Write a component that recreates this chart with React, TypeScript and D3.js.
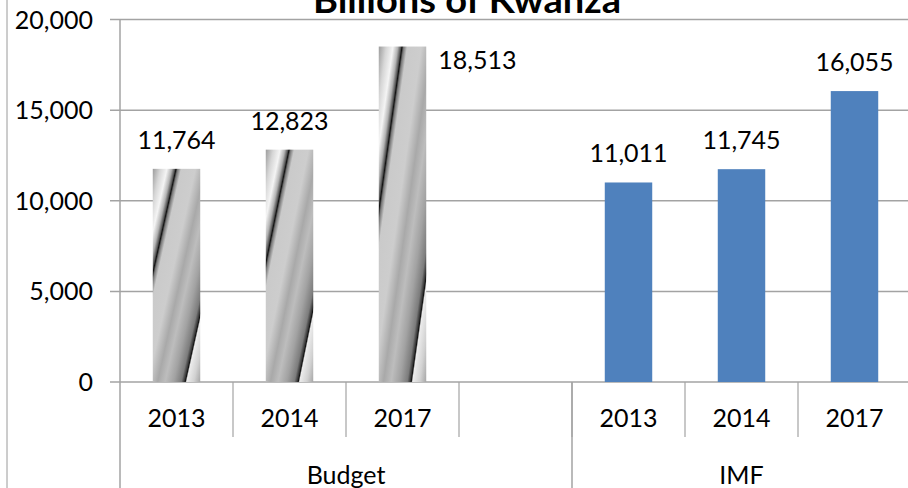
import * as d3 from 'd3';

// chart values
const groups = ['Budget', 'IMF'];
const budgetYears = ['2013', '2014', '2017', ''];
const budgetValues = [11764, 12823, 18513, null];
const imfYears = ['2013', '2014', '2017'];
const imfValues = [11011, 11745, 16055];
const yTicks = [0, 5000, 10000, 15000, 20000];
const title = 'Billions of Kwanza';

const width = 908;
const height = 488;
const margin = { top: 19.6, left: 120, right: -3, zero: 382 };

type Slot = { key: string; group: string; year: string; value: number | null };

const slots: Slot[] = [
  ...budgetYears.map((yr, i) => ({ key: 'b' + i, group: groups[0], year: yr, value: budgetValues[i] })),
  ...imfYears.map((yr, i) => ({ key: 'i' + i, group: groups[1], year: yr, value: imfValues[i] })),
];

const font = 'Lato, Carlito, Calibri, sans-serif';
const gridColor = '#a3a3a3';

const App = () => {
  const x = d3.scaleBand()
    .domain(slots.map(d => d.key))
    .range([margin.left, width - margin.right])
    .paddingInner(0.58)
    .paddingOuter(0.29);

  const y = d3.scaleLinear()
    .domain([0, 20000])
    .range([margin.zero, margin.top]);

  const step = x.step();
  const slotStart = (k: string) => (x(k) as number) - step * 0.29;
  const fmt = d3.format(',');

  // gradient stops for the grey "twisted" budget bars
  const greyStops: [number, string][] = [
    [0, '#9c9c9c'], [0.08, '#d6d6d6'], [0.15, '#f4f4f4'], [0.2, '#b4b4b4'],
    [0.232, '#555555'], [0.245, '#111111'], [0.262, '#777777'], [0.3, '#cacaca'],
    [0.45, '#cdcdcd'], [0.55, '#a9a9a9'], [0.63, '#bdbdbd'], [0.72, '#a2a2a2'],
    [0.8, '#7c7c7c'], [0.832, '#353535'], [0.842, '#101010'], [0.856, '#ececec'],
    [0.93, '#d2d2d2'], [1, '#a6a6a6'],
  ];

  const groupEdges = [slotStart('b0'), slotStart('i0'), width - margin.right];

  return (
    <div style={{ position: 'absolute', left: 0, top: 0 }}>
      <svg width={width} height={height} style={{ display: 'block', fontFamily: font }}>
        <defs>
          <linearGradient id="twist" x1="0" y1="0" x2="1" y2="1">
            {greyStops.map(([o, c]) => (
              <stop key={o} offset={o} stopColor={c} />
            ))}
          </linearGradient>
        </defs>

        <rect width={width} height={height} fill="#fff" />
        <line x1={7} x2={7} y1={0} y2={height} stroke="#9a9a9a" />

        {/* gridlines + y labels */}
        {yTicks.map(t => (
          <g key={t}>
            <line x1={110} x2={width} y1={y(t)} y2={y(t)} stroke={gridColor} strokeWidth={1.5} />
            <text x={93} y={y(t) + 9} textAnchor="end" fontSize={25} fill="#000">{fmt(t)}</text>
          </g>
        ))}

        <text x={467} y={13} textAnchor="middle" fontSize={36} fontWeight="bold"
          textLength={308} lengthAdjust="spacingAndGlyphs">{title}</text>

        {/* category dividers */}
        {slots.map(d => (
          <line key={'d' + d.key} x1={slotStart(d.key) + step} x2={slotStart(d.key) + step}
            y1={margin.zero} y2={437} stroke={gridColor} strokeWidth={1.2} />
        ))}
        {groupEdges.map((e, i) => (
          <line key={'g' + e} x1={e} x2={e} y1={i === 0 ? margin.top : margin.zero} y2={height}
            stroke={gridColor} strokeWidth={1.5} />
        ))}

        {/* bars */}
        {slots.filter(d => d.value != null).map(d => (
          <rect key={'r' + d.key} x={x(d.key)} y={y(d.value as number)} width={x.bandwidth()}
            height={y(0) - y(d.value as number)}
            fill={d.group === groups[0] ? 'url(#twist)' : '#4f81bd'} />
        ))}

        {/* data labels */}
        {slots.filter(d => d.value != null).map(d => {
          const v = d.value as number;
          const cx = (x(d.key) as number) + x.bandwidth() / 2;
          const tall = y(v) < 55;
          return (
            <text key={'l' + d.key} fontSize={25}
              x={tall ? cx + x.bandwidth() / 2 + 12 : cx}
              y={tall ? y(v) + 22 : y(v) - 20}
              textAnchor={tall ? 'start' : 'middle'}>{fmt(v)}</text>
          );
        })}

        {/* category labels */}
        {slots.map(d => (
          <text key={'c' + d.key} x={slotStart(d.key) + step / 2} y={427} textAnchor="middle" fontSize={25}>{d.year}</text>
        ))}
        {groups.map((g, i) => (
          <text key={g} x={(groupEdges[i] + groupEdges[i + 1]) / 2} y={484} textAnchor="middle" fontSize={25}>{g}</text>
        ))}
      </svg>
    </div>
  );
};

export default App;
